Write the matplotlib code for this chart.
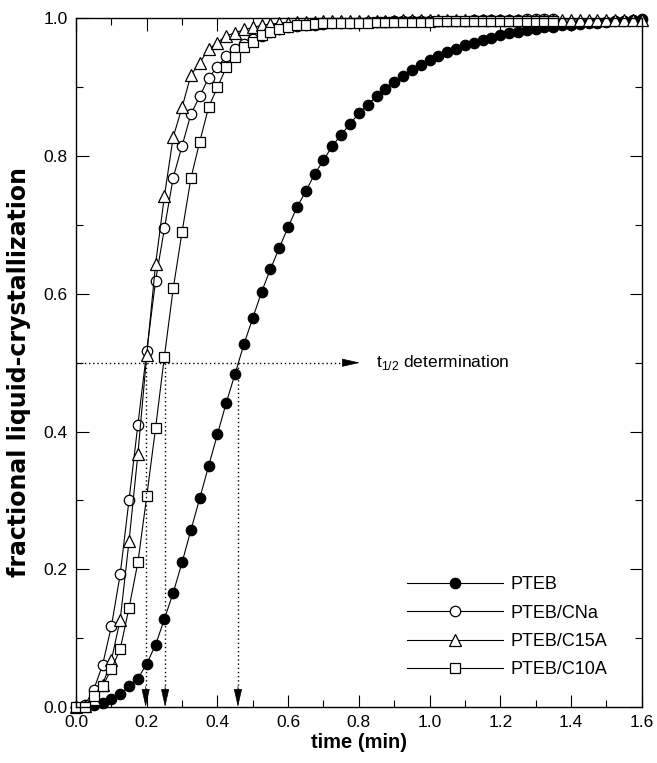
import matplotlib
matplotlib.use('Agg')
import matplotlib.pyplot as plt

plt.rcParams['font.family'] = ['Liberation Sans', 'DejaVu Sans']
plt.rcParams['mathtext.fontset'] = 'custom'
plt.rcParams['mathtext.rm'] = 'Liberation Sans'

# Tiempo de muestreo (min)
tiempo = [0.000, 0.025, 0.050, 0.075, 0.100, 0.125, 0.150, 0.175, 0.200, 0.225,
          0.250, 0.275, 0.300, 0.325, 0.350, 0.375, 0.400, 0.425, 0.450, 0.475,
          0.500, 0.525, 0.550, 0.575, 0.600, 0.625, 0.650, 0.675, 0.700, 0.725,
          0.750, 0.775, 0.800, 0.825, 0.850, 0.875, 0.900, 0.925, 0.950, 0.975,
          1.000, 1.025, 1.050, 1.075, 1.100, 1.125, 1.150, 1.175, 1.200, 1.225,
          1.250, 1.275, 1.300, 1.325, 1.350, 1.375, 1.400, 1.425, 1.450, 1.475,
          1.500, 1.525, 1.550, 1.575, 1.600]

pteb = [0.000, 0.001, 0.003, 0.006, 0.011, 0.019, 0.030, 0.041, 0.063, 0.090,
        0.128, 0.166, 0.210, 0.257, 0.303, 0.350, 0.396, 0.442, 0.484, 0.527,
        0.565, 0.603, 0.636, 0.667, 0.697, 0.726, 0.749, 0.774, 0.794, 0.815,
        0.831, 0.847, 0.862, 0.875, 0.887, 0.898, 0.908, 0.916, 0.925, 0.932,
        0.939, 0.945, 0.951, 0.956, 0.961, 0.965, 0.969, 0.972, 0.976, 0.979,
        0.981, 0.983, 0.985, 0.987, 0.988, 0.990, 0.991, 0.992, 0.993, 0.994,
        0.995, 0.996, 0.997, 0.998, 0.999]

pteb_cna = [0.000, 0.003, 0.025, 0.061, 0.117, 0.193, 0.301, 0.410, 0.517, 0.619,
            0.695, 0.769, 0.815, 0.861, 0.887, 0.914, 0.930, 0.945, 0.955, 0.963,
            0.970, 0.975, 0.980, 0.984, 0.987, 0.989, 0.990, 0.991, 0.992, 0.993,
            0.993, 0.994, 0.994, 0.995, 0.995, 0.995, 0.996, 0.996, 0.996, 0.996,
            0.997, 0.997, 0.997, 0.997, 0.997, 0.998, 0.998, 0.998, 0.998, 0.998,
            0.998, 0.999, 0.999, 0.999, 0.999]

pteb_c15a = [0.000, 0.002, 0.012, 0.032, 0.068, 0.127, 0.241, 0.367, 0.511, 0.643,
             0.742, 0.828, 0.871, 0.918, 0.936, 0.955, 0.965, 0.975, 0.979, 0.984,
             0.987, 0.990, 0.992, 0.993, 0.994, 0.995, 0.995, 0.995, 0.996, 0.996,
             0.996, 0.996, 0.997, 0.997, 0.997, 0.997, 0.997, 0.998, 0.998, 0.998,
             0.998, 0.998, 0.998, 0.998, 0.998, 0.998, 0.998, 0.998, 0.998, 0.998,
             0.998, 0.998, 0.998, 0.998, 0.998, 0.998, 0.998, 0.998, 0.998, 0.998,
             0.998, 0.998, 0.998, 0.998, 0.998]

pteb_c10a = [0.000, 0.000, 0.016, 0.030, 0.055, 0.084, 0.144, 0.210, 0.306, 0.405,
             0.509, 0.608, 0.690, 0.768, 0.821, 0.871, 0.900, 0.929, 0.944, 0.959,
             0.966, 0.976, 0.980, 0.985, 0.988, 0.990, 0.991, 0.992, 0.993, 0.993,
             0.994, 0.994, 0.994, 0.994, 0.995, 0.995, 0.995, 0.995, 0.995, 0.995,
             0.995, 0.996, 0.996, 0.996, 0.996, 0.996, 0.996, 0.996, 0.996, 0.996,
             0.996, 0.996, 0.996, 0.996, 0.996]

# Tiempos medios de cristalización marcados con flechas
t_medio = [0.197, 0.252, 0.458]

fig = plt.figure(figsize=(6.57, 7.63), dpi=100)
ax = fig.add_axes([0.1157, 0.0734, 0.861, 0.9024])

estilo = dict(color='black', linewidth=0.8, markeredgewidth=0.9, markeredgecolor='black',
              clip_on=False)
ax.plot(tiempo, pteb, marker='o', markersize=7.5, markerfacecolor='black', label='PTEB', **estilo)
ax.plot(tiempo[:len(pteb_cna)], pteb_cna, marker='o', markersize=7.5, markerfacecolor='white',
        label='PTEB/CNa', **estilo)
ax.plot(tiempo, pteb_c15a, marker='^', markersize=8.5, markerfacecolor='white',
        label='PTEB/C15A', **estilo)
ax.plot(tiempo[:len(pteb_c10a)], pteb_c10a, marker='s', markersize=7.0, markerfacecolor='white',
        label='PTEB/C10A', **estilo)

# Líneas punteadas para la determinación de t1/2
punteado = dict(color='black', linewidth=1.0, linestyle=(0, (1, 2)))
ax.plot([0.0, 0.77], [0.5, 0.5], **punteado)
cabeza = dict(arrowstyle='-|>,head_length=1.15,head_width=0.26', color='black', lw=0.5,
              shrinkA=0, shrinkB=0)
ax.annotate('', xy=(0.803, 0.5), xytext=(0.76, 0.5), arrowprops=cabeza)
for t in t_medio:
    ax.plot([t, t], [0.5, 0.02], **punteado)
    ax.annotate('', xy=(t, 0.0), xytext=(t, 0.03), arrowprops=cabeza)

ax.text(0.848, 0.5, r't$_\mathregular{1/2}$ determination', va='center', fontsize=12.5)

ax.set_xlim(0, 1.6)
ax.set_ylim(0, 1.0)
ax.set_xticks([0.0, 0.2, 0.4, 0.6, 0.8, 1.0, 1.2, 1.4, 1.6])
ax.set_xticks([0.1, 0.3, 0.5, 0.7, 0.9, 1.1, 1.3, 1.5], minor=True)
ax.set_yticks([0.0, 0.2, 0.4, 0.6, 0.8, 1.0])
ax.set_yticks([0.1, 0.3, 0.5, 0.7, 0.9], minor=True)
ax.set_xticklabels(['0.0', '0.2', '0.4', '0.6', '0.8', '1.0', '1.2', '1.4', '1.6'])
ax.set_yticklabels(['0.0', '0.2', '0.4', '0.6', '0.8', '1.0'])

ax.tick_params(which='both', direction='in', top=True, right=True, width=0.8, labelsize=12.5)
ax.tick_params(which='major', length=9, pad=6)
ax.tick_params(which='minor', length=5)
for lado in ax.spines.values():
    lado.set_linewidth(1.0)

ax.set_xlabel('time (min)', fontsize=14.5, fontweight='bold', labelpad=2)
ax.set_ylabel('fractional liquid-crystallization', fontsize=17, fontweight='bold',
              family=['DejaVu Sans'])
ax.yaxis.set_label_coords(-0.08, 0.486)

ax.legend(loc='upper left', bbox_to_anchor=(0.585, 0.190), frameon=False, fontsize=13,
          handlelength=5.3, handletextpad=0.45, labelspacing=0.63, borderpad=0,
          borderaxespad=0, numpoints=1)

fig.savefig('out.png', dpi=100)
